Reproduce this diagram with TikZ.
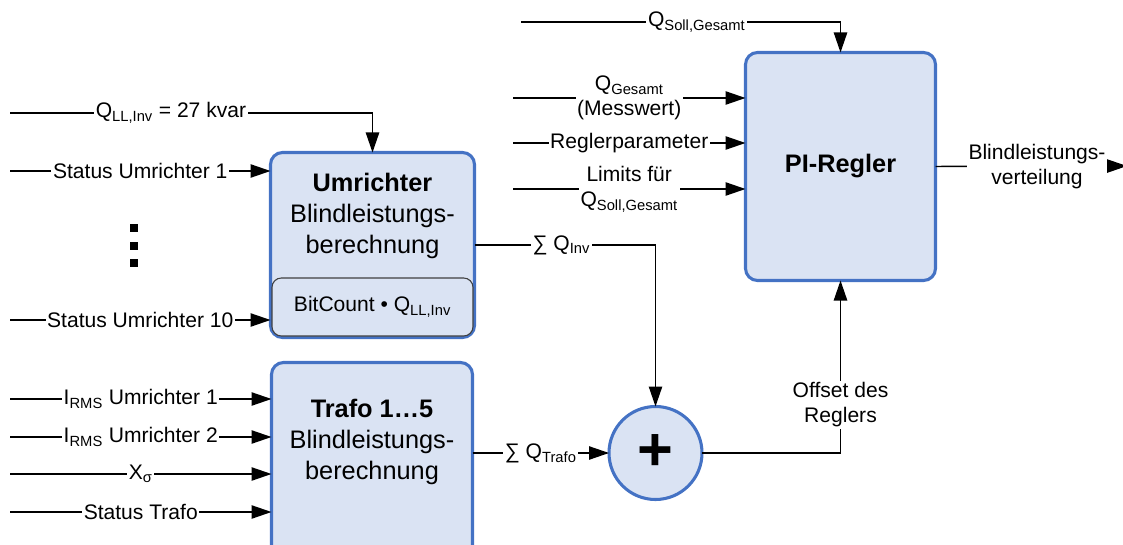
\documentclass[tikz,border=0pt]{standalone}
\usepackage{fontspec}
\setmainfont{Liberation Sans}
\usetikzlibrary{arrows.meta}
\definecolor{blfill}{HTML}{DAE3F3}
\definecolor{blline}{HTML}{4472C4}
\definecolor{blink}{HTML}{000000}
\definecolor{blgrey}{HTML}{404040}

\begin{document}
\begin{tikzpicture}[
  x=0.75pt, y=-0.75pt,
  every node/.style={inner sep=0pt, outer sep=0pt, text=blink},
  blk/.style={draw=blline, line width=2.3pt, fill=blfill, rounded corners=9pt},
  inbox/.style={draw=blgrey, line width=0.8pt, fill=blfill, rounded corners=7pt,
                font=\fontsize{15.8}{19}\selectfont},
  sig/.style={draw=blink, line width=1.1pt, -{Triangle[length=15pt,width=10pt]}},
  lbl/.style={fill=white, inner sep=1.2pt, align=center,
              font=\fontsize{15.8}{18.8}\selectfont},
  txt/.style={align=center, font=\fontsize{19}{23.5}\selectfont},
]
\clip (0,0) rectangle (1123,545);

% input ends (free) of the signal lines
\coordinate (qll)   at (10,113);
\coordinate (st1)   at (10,171);
\coordinate (st10)  at (10,320);
\coordinate (irms1) at (10,399);
\coordinate (irms2) at (10,437);
\coordinate (xsig)  at (10,474);
\coordinate (sttr)  at (10,512);
\coordinate (qsoll) at (521,22);
\coordinate (qges)  at (513,98);
\coordinate (rpar)  at (513,143);
\coordinate (lim)   at (513,189);
\coordinate (out)   at (1127,166);

% ---------- blocks ----------
\node[blk, minimum width=153pt, minimum height=138.75pt] (umr) at (372.5,245) {};
\node[inbox, minimum width=150.75pt, minimum height=43.5pt] (bitc) at (372.5,307)
  {BitCount \textbullet{} Q\textsubscript{LL,Inv}};
\node[txt] (umrtxt) at (372.5,216) {\textbf{Umrichter}\\Blindleistungs-\\berechnung};

\node[blk, minimum width=150.75pt, minimum height=162.75pt] (trafo) at (372,471) {};
\node[txt] (trtxt) at (372,442) {\textbf{Trafo 1\ldots5}\\Blindleistungs-\\berechnung};

\node[blk, minimum width=142.5pt, minimum height=171pt,
      font=\fontsize{19}{23.5}\selectfont\bfseries] (pi) at (840.5,166.5) {PI-Regler};

\node[blk, circle, rounded corners=0pt, minimum size=69.75pt,
      font=\fontsize{46}{46}\selectfont\bfseries] (sum) at (655.5,453) {+};

% vertical dots between the converter status inputs
\foreach \y in {228,246,263}{
  \fill[blink] (130,\y-4) rectangle (138,\y+4);
}

% ---------- inputs of the converter block ----------
\draw[sig] (qll) -| node[lbl, pos=0.222] {Q\textsubscript{LL,Inv} = 27 kvar} (umr.north);
\foreach \c/\t in {st1/Status Umrichter 1, st10/Status Umrichter 10}{
  \draw[sig] (\c) -- node[lbl] {\t} (\c -| umr.west);
}

% ---------- inputs of the transformer block ----------
\foreach \c/\t in {irms1/I\textsubscript{RMS} Umrichter 1, irms2/I\textsubscript{RMS} Umrichter 2,
                   xsig/X\textsubscript{σ}, sttr/Status Trafo}{
  \draw[sig] (\c) -- node[lbl] {\t} (\c -| trafo.west);
}

% ---------- sums ----------
\draw[sig] (umr.east) -| node[lbl, pos=0.24] {∑ Q\textsubscript{Inv}} (sum.north);
\draw[sig] (sum.west -| trafo.east) -- node[lbl] {∑ Q\textsubscript{Trafo}} (sum.west);
\draw[sig] (sum.east) -| node[lbl, pos=0.64] {Offset des\\Reglers} (pi.south);

% ---------- controller ----------
\draw[sig] (qsoll) -| node[lbl, pos=0.275] {Q\textsubscript{Soll,Gesamt}} (pi.north);
\foreach \c/\t in {qges/{Q\textsubscript{Gesamt}\\(Messwert)}, rpar/Reglerparameter,
                   lim/{Limits für\\Q\textsubscript{Soll,Gesamt}}}{
  \draw[sig] (\c) -- node[lbl] {\t} (\c -| pi.west);
}
\draw[sig] (pi.east) -- node[lbl, pos=0.53] {Blindleistungs-\\verteilung} (out);

\end{tikzpicture}
\end{document}
